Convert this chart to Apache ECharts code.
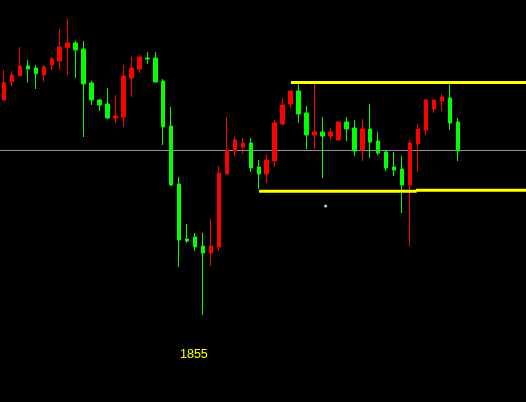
<!DOCTYPE html>
<html><head><meta charset="utf-8">
<script src="https://cdn.jsdelivr.net/npm/echarts@6/dist/echarts.min.js"></script>
<style>html,body{margin:0;padding:0;background:#000;}#c{width:526px;height:402px;}</style>
</head><body><div id="c"></div>
<script>
// candle values (open, close, low, high)
const opens  = [302,320.3,326.3,336,334,327,337,341,354.3,359,353,319,302,298,284,285,324,333,344,344,321,276,218,163,165,156,149,155,228,251,255,259,235,228,241,278,298,311,289,267,270,266,262,280,274,252,273,261,250,235,233,217,258,272,293,301,304,280];
const closes = [319.3,327,336,333,328.3,335,343,355,359,352,318,302,297,284,286,326,334,345,343,320,275,217,162,161,155,149,156,229,252,262,259,234,228,242,279,297,311,288,267,270,266,270,280,273,251,273,260,249,234,232,217,259,273,302,302,305,279,251];
const lows   = [302,315.3,325.3,319.3,313,320.3,332,332,327,324,265,297,291,283,279,275,305,329,338,320,257,216,135,159,151,87,136,151,228,246,248,230,213,219,235,277,294,279,253,253,224,262,262,261,246,241,244,247,231,226,189,156,230,267,289,291,272,241];
const highs  = [332,331,355,342,337,337,345,373,383,361,361,321,303,314,307,337,345,347,350,350,323,295,225,178,169,169,183,236,285,265,264,264,242,247,282,304,311,319,296,319,285,274,280,285,282,283,298,270,252,250,246,262,278,303,302,308,319,284];
const totalSlots = 66;
const categories = Array.from({length: totalSlots}, (_, i) => String(i + 1));
// support / resistance levels: [startIndex, endIndex, level]
const topLevel = [[36.04, 66, 319.5]];
const bottomLevel1 = [[32.04, 51.84, 210.7]];
const bottomLevel2 = [[51.75, 66, 211.7]];
const midLevel = 251.5;
const markerPoint = [[40.4, 196]];
const labelText = '1855';

const candleData = opens.map((o, i) => [o, closes[i], lows[i], highs[i]]);
while (candleData.length < totalSlots) candleData.push('-');

const seg = (arr) => arr.map(([a, b, v]) => [[a, v], [b, v]]).flat();

const chart = echarts.init(document.getElementById('c'));
chart.setOption({
  backgroundColor: '#000000',
  animation: false,
  grid: {left: -2.5, top: 0, width: 528, height: 402},
  xAxis: [
    {type: 'category', data: categories, boundaryGap: true, show: false},
    {type: 'value', min: -0.5, max: 65.5, show: false}
  ],
  yAxis: {type: 'value', min: 0, max: 402, show: false, splitLine: {show: false}},
  series: [
    {
      type: 'line', xAxisIndex: 1, data: [[-1, midLevel], [67, midLevel]],
      symbol: 'none', lineStyle: {color: '#8494a8', width: 1}, z: 1, silent: true
    },
    {
      type: 'candlestick', data: candleData, barWidth: 4, z: 2,
      itemStyle: {color: '#ff0000', color0: '#00ff00', borderColor: '#ff0000', borderColor0: '#00ff00', borderWidth: 1}
    },
    {
      type: 'line', xAxisIndex: 1, data: seg(topLevel), symbol: 'none',
      lineStyle: {color: '#ffff00', width: 3}, z: 3
    },
    {
      type: 'line', xAxisIndex: 1, data: seg(bottomLevel1), symbol: 'none',
      lineStyle: {color: '#ffff00', width: 3}, z: 3
    },
    {
      type: 'line', xAxisIndex: 1, data: seg(bottomLevel2), symbol: 'none',
      lineStyle: {color: '#ffff00', width: 3}, z: 3
    },
    {
      type: 'scatter', xAxisIndex: 1, data: markerPoint, symbol: 'circle', symbolSize: 3,
      itemStyle: {color: '#ffffff'}, z: 4
    }
  ],
  graphic: [{
    type: 'text', left: 180, top: 348,
    style: {text: labelText, fill: '#ffff00', font: '12.5px "Liberation Sans", Arial, sans-serif'}
  }]
});
</script>
</body></html>
